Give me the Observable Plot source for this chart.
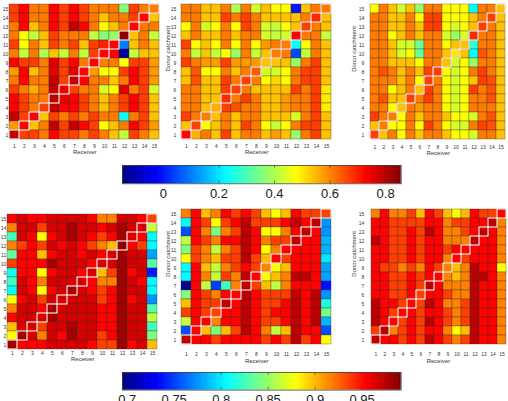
<!DOCTYPE html>
<html><head><meta charset="utf-8">
<script src="https://cdn.jsdelivr.net/npm/d3@7"></script>
<script src="https://cdn.jsdelivr.net/npm/@observablehq/plot@0.6"></script>
<style>
body{margin:0;background:#fff;}
#root{position:relative;width:508px;height:401px;overflow:hidden;background:#fff;}
#root svg{position:absolute;overflow:visible;}
</style></head><body><div id="root"></div>
<script>
// ---------- categories ----------
const receivers = [1,2,3,4,5,6,7,8,9,10,11,12,13,14,15];
const donors = [15,14,13,12,11,10,9,8,7,6,5,4,3,2,1]; // rows listed top to bottom

// ---------- colour-bar ticks ----------
const topDomain = [-0.147, 0.856];
const topTicks = [0, 0.2, 0.4, 0.6, 0.8];
const topTickLabels = ["0", "0.2", "0.4", "0.6", "0.8"];
const botDomain = [0.695, 0.9915];
const botTicks = [0.7, 0.75, 0.8, 0.85, 0.9, 0.95];
const botTickLabels = ["0.7", "0.75", "0.8", "0.85", "0.9", "0.95"];

// ---------- series values (rows = donor 15..1, cols = receiver 1..15) ----------
const panelA = [
[0.67,0.73,0.61,0.61,0.73,0.67,0.73,0.67,0.61,0.61,0.61,0.36,0.67,0.61,0.61],
[0.67,0.73,0.61,0.61,0.73,0.67,0.73,0.67,0.61,0.54,0.61,0.61,0.67,0.73,0.54],
[0.61,0.73,0.54,0.61,0.73,0.67,0.79,0.73,0.61,0.48,0.54,0.61,0.73,0.61,0.61],
[0.61,0.48,0.42,0.54,0.67,0.61,0.61,0.61,0.42,0.36,0.38,0.84,0.54,0.61,0.42],
[0.67,0.48,0.61,0.54,0.67,0.61,0.67,0.54,0.67,0.70,0.73,0.10,0.54,0.61,0.54],
[0.61,0.42,0.61,0.40,0.54,0.42,0.61,0.42,0.67,0.73,0.73,-0.12,0.42,0.54,0.54],
[0.73,0.67,0.67,0.61,0.76,0.67,0.73,0.61,0.73,0.61,0.61,0.48,0.67,0.67,0.58],
[0.58,0.73,0.54,0.61,0.75,0.67,0.76,0.73,0.58,0.48,0.48,0.67,0.73,0.67,0.58],
[0.61,0.73,0.61,0.61,0.79,0.67,0.79,0.73,0.61,0.61,0.54,0.61,0.73,0.67,0.58],
[0.67,0.61,0.56,0.61,0.79,0.75,0.67,0.61,0.61,0.44,0.48,0.76,0.61,0.67,0.44],
[0.73,0.67,0.61,0.61,0.80,0.75,0.73,0.67,0.61,0.54,0.61,0.67,0.73,0.67,0.54],
[0.73,0.67,0.61,0.67,0.79,0.73,0.73,0.67,0.61,0.54,0.61,0.67,0.73,0.67,0.54],
[0.79,0.67,0.73,0.54,0.67,0.61,0.67,0.61,0.67,0.61,0.61,0.24,0.61,0.67,0.54],
[0.58,0.73,0.54,0.61,0.79,0.67,0.79,0.73,0.67,0.48,0.54,0.61,0.73,0.67,0.58],
[0.79,0.67,0.67,0.61,0.73,0.67,0.67,0.61,0.67,0.61,0.54,0.42,0.67,0.61,0.54]];

const panelB = [
[0.61,0.61,0.54,0.54,0.61,0.40,0.61,0.44,0.54,0.48,0.48,0.00,0.54,0.61,0.61],
[0.61,0.61,0.54,0.54,0.67,0.61,0.67,0.61,0.54,0.54,0.54,0.54,0.61,0.69,0.54],
[0.48,0.61,0.44,0.48,0.61,0.48,0.67,0.61,0.44,0.42,0.48,0.54,0.67,0.61,0.54],
[0.54,0.61,0.54,0.54,0.61,0.54,0.61,0.61,0.44,0.42,0.44,0.73,0.61,0.61,0.42],
[0.67,0.48,0.54,0.48,0.61,0.48,0.61,0.48,0.58,0.61,0.61,0.23,0.48,0.61,0.54],
[0.61,0.42,0.54,0.42,0.48,0.38,0.61,0.42,0.54,0.61,0.61,0.05,0.42,0.61,0.54],
[0.67,0.61,0.58,0.58,0.67,0.58,0.58,0.58,0.54,0.54,0.54,0.38,0.61,0.67,0.54],
[0.54,0.65,0.48,0.48,0.61,0.54,0.61,0.64,0.44,0.44,0.48,0.61,0.67,0.67,0.54],
[0.54,0.65,0.54,0.54,0.67,0.61,0.67,0.61,0.48,0.52,0.48,0.61,0.67,0.67,0.54],
[0.61,0.61,0.54,0.54,0.67,0.67,0.61,0.54,0.54,0.54,0.54,0.67,0.61,0.67,0.50],
[0.61,0.61,0.54,0.54,0.69,0.61,0.67,0.61,0.54,0.54,0.58,0.61,0.61,0.67,0.50],
[0.61,0.61,0.54,0.56,0.67,0.65,0.61,0.61,0.54,0.54,0.58,0.61,0.61,0.67,0.50],
[0.67,0.61,0.61,0.54,0.61,0.54,0.61,0.61,0.54,0.54,0.54,0.44,0.61,0.67,0.54],
[0.54,0.67,0.48,0.54,0.61,0.54,0.67,0.61,0.48,0.42,0.48,0.61,0.67,0.67,0.54],
[0.73,0.56,0.61,0.54,0.67,0.54,0.61,0.61,0.54,0.58,0.54,0.38,0.61,0.67,0.54]];

const panelC = [
[0.48,0.61,0.54,0.44,0.54,0.38,0.61,0.61,0.48,0.48,0.48,0.23,0.61,0.61,0.54],
[0.61,0.61,0.54,0.54,0.61,0.48,0.67,0.67,0.48,0.48,0.48,0.54,0.61,0.67,0.54],
[0.61,0.61,0.54,0.54,0.61,0.54,0.67,0.67,0.48,0.44,0.48,0.54,0.67,0.61,0.54],
[0.61,0.61,0.48,0.54,0.61,0.54,0.61,0.61,0.44,0.38,0.44,0.69,0.61,0.61,0.54],
[0.61,0.61,0.54,0.44,0.44,0.34,0.61,0.61,0.48,0.54,0.54,0.28,0.61,0.61,0.54],
[0.61,0.61,0.54,0.44,0.48,0.33,0.61,0.61,0.54,0.50,0.54,0.23,0.65,0.61,0.54],
[0.61,0.61,0.54,0.54,0.54,0.48,0.61,0.61,0.54,0.44,0.48,0.38,0.61,0.61,0.54],
[0.61,0.65,0.61,0.54,0.61,0.54,0.67,0.67,0.48,0.44,0.48,0.61,0.67,0.61,0.54],
[0.61,0.61,0.60,0.54,0.61,0.48,0.67,0.61,0.48,0.44,0.48,0.54,0.67,0.65,0.54],
[0.61,0.61,0.48,0.54,0.61,0.54,0.67,0.61,0.48,0.44,0.48,0.67,0.61,0.65,0.54],
[0.61,0.65,0.54,0.54,0.67,0.61,0.67,0.61,0.48,0.44,0.48,0.61,0.61,0.65,0.54],
[0.61,0.61,0.48,0.54,0.61,0.58,0.61,0.61,0.48,0.44,0.48,0.61,0.61,0.61,0.54],
[0.67,0.61,0.61,0.48,0.61,0.54,0.61,0.61,0.54,0.48,0.48,0.44,0.61,0.65,0.54],
[0.54,0.61,0.48,0.48,0.61,0.48,0.67,0.61,0.48,0.44,0.44,0.61,0.67,0.65,0.54],
[0.67,0.54,0.61,0.48,0.61,0.54,0.61,0.61,0.54,0.48,0.48,0.44,0.61,0.61,0.54]];

const panelD = [
[.954,.966,.954,.954,.966,.966,.966,.966,.954,.917,.917,.966,.966,.954,.936],
[.917,.966,.966,.936,.966,.966,.980,.966,.966,.954,.966,.980,.966,.966,.862],
[.825,.966,.954,.880,.954,.966,.980,.966,.954,.936,.954,.980,.966,.954,.806],
[.917,.936,.954,.936,.966,.954,.966,.954,.936,.917,.899,.988,.954,.936,.806],
[.835,.954,.954,.899,.954,.966,.966,.954,.966,.954,.966,.982,.966,.966,.780],
[.936,.954,.954,.954,.980,.966,.966,.966,.954,.966,.966,.982,.966,.966,.830],
[.810,.954,.954,.880,.954,.966,.966,.954,.966,.899,.936,.982,.954,.966,.740],
[.825,.966,.954,.917,.966,.966,.966,.966,.954,.917,.917,.982,.966,.954,.806],
[.806,.966,.954,.880,.954,.966,.980,.966,.954,.936,.954,.982,.966,.966,.806],
[.880,.954,.966,.936,.966,.966,.966,.966,.966,.936,.954,.982,.954,.966,.775],
[.917,.966,.966,.954,.980,.966,.966,.966,.966,.954,.954,.982,.966,.966,.830],
[.954,.966,.966,.966,.980,.966,.966,.966,.966,.954,.954,.982,.966,.966,.862],
[.899,.966,.966,.936,.966,.966,.980,.966,.966,.954,.954,.982,.966,.966,.825],
[.880,.980,.966,.917,.966,.954,.980,.966,.966,.936,.954,.982,.966,.966,.843],
[.982,.954,.954,.954,.966,.966,.966,.966,.954,.936,.936,.982,.954,.966,.899]];

const panelE = [
[.917,.954,.899,.917,.954,.936,.954,.936,.899,.880,.899,.954,.936,.936,.936],
[.806,.954,.936,.880,.936,.954,.973,.936,.936,.936,.954,.973,.954,.973,.775],
[.755,.954,.917,.843,.917,.936,.973,.954,.880,.880,.917,.954,.973,.954,.775],
[.862,.954,.936,.917,.954,.954,.973,.954,.917,.936,.936,.973,.954,.954,.785],
[.843,.936,.917,.862,.917,.936,.973,.954,.880,.917,.954,.954,.954,.954,.785],
[.880,.936,.917,.899,.936,.936,.973,.936,.899,.954,.936,.954,.954,.954,.800],
[.806,.954,.899,.862,.917,.936,.954,.936,.917,.880,.899,.954,.954,.954,.780],
[.806,.954,.917,.862,.936,.917,.973,.954,.880,.899,.917,.973,.973,.954,.780],
[.700,.954,.862,.750,.825,.917,.973,.936,.899,.862,.917,.954,.954,.954,.735],
[.843,.954,.936,.917,.954,.954,.973,.954,.936,.936,.936,.973,.954,.973,.775],
[.899,.954,.936,.936,.973,.954,.973,.954,.936,.936,.954,.973,.954,.973,.815],
[.936,.954,.936,.936,.954,.954,.973,.954,.936,.954,.954,.973,.954,.973,.840],
[.862,.954,.954,.917,.954,.954,.973,.954,.936,.936,.954,.973,.954,.973,.785],
[.755,.954,.899,.843,.899,.936,.973,.954,.917,.862,.899,.973,.954,.954,.755],
[.973,.954,.954,.936,.954,.954,.954,.954,.936,.954,.936,.973,.936,.954,.880]];

const panelF = [
[.917,.954,.917,.917,.936,.899,.954,.936,.899,.880,.899,.954,.936,.936,.954],
[.954,.954,.936,.936,.936,.936,.954,.954,.917,.936,.936,.954,.954,.973,.917],
[.954,.954,.936,.936,.954,.936,.973,.954,.917,.917,.936,.954,.973,.954,.917],
[.973,.954,.936,.936,.954,.936,.954,.954,.917,.917,.917,.973,.954,.954,.917],
[.954,.954,.936,.936,.954,.936,.954,.954,.936,.954,.954,.954,.954,.954,.917],
[.954,.954,.936,.936,.954,.936,.954,.954,.917,.954,.936,.954,.954,.954,.917],
[.954,.936,.936,.917,.936,.917,.954,.936,.917,.899,.917,.973,.954,.954,.880],
[.954,.954,.936,.936,.954,.936,.954,.954,.917,.899,.917,.973,.973,.954,.917],
[.954,.954,.936,.936,.954,.936,.973,.954,.917,.917,.917,.973,.954,.954,.917],
[.954,.954,.936,.936,.954,.936,.954,.954,.936,.917,.917,.973,.954,.954,.917],
[.973,.954,.954,.936,.954,.936,.973,.954,.917,.917,.936,.973,.954,.954,.917],
[.973,.954,.936,.954,.954,.936,.954,.954,.936,.917,.936,.973,.954,.954,.917],
[.973,.954,.954,.936,.954,.936,.973,.954,.936,.917,.936,.973,.954,.954,.917],
[.936,.973,.917,.936,.954,.936,.954,.954,.917,.880,.899,.973,.954,.954,.917],
[.973,.954,.954,.936,.954,.936,.973,.954,.936,.917,.936,.973,.954,.954,.917]];

// ---------- jet colormap ----------
function jet(t) {
  const c = v => Math.max(0, Math.min(1, v));
  const r = c(1.5 - Math.abs(4 * t - 3)), g = c(1.5 - Math.abs(4 * t - 2)), b = c(1.5 - Math.abs(4 * t - 1));
  return `rgb(${Math.round(r * 255)},${Math.round(g * 255)},${Math.round(b * 255)})`;
}

const FONT = "'Liberation Sans', Arial, Helvetica, sans-serif";
const root = document.getElementById("root");

function tidy(rows) {
  const out = [];
  rows.forEach((row, i) => row.forEach((v, j) => out.push({donor: donors[i], receiver: receivers[j], v})));
  return out;
}

function place(svg, left, top) {
  svg.style.left = left + "px";
  svg.style.top = top + "px";
  root.appendChild(svg);
}

function panel(rows, domain, box, ylabelDx, showYLabel) {
  const [x0, x1, y0, y1] = box;
  const mL = 24, mR = 2, mT = 3, mB = 18;
  const svg = Plot.plot({
    width: x1 - x0 + mL + mR, height: y1 - y0 + mT + mB,
    marginLeft: mL, marginRight: mR, marginTop: mT, marginBottom: mB,
    style: {fontFamily: FONT, color: "#333", background: "transparent", overflow: "visible"},
    x: {type: "band", domain: receivers, padding: 0},
    y: {type: "band", domain: donors, padding: 0},
    color: {type: "linear", domain, interpolate: jet, clamp: true},
    marks: [
      Plot.cell(tidy(rows), {x: "receiver", y: "donor", fill: "v", stroke: "#3a3030", strokeWidth: 0.45, strokeOpacity: 0.75, inset: 0}),
      Plot.cell(receivers, {x: d => d, y: d => d, fill: "none", stroke: "#fff4f0", strokeWidth: 1.1, inset: 0}),
      Plot.axisX({tickSize: 0, tickPadding: 2, fontSize: 5, label: null}),
      Plot.axisY({tickSize: 0, tickPadding: 1.2, fontSize: 5, label: null}),
      Plot.text(["Receiver"], {text: d => d, frameAnchor: "bottom", dy: 11.8, fontSize: 6}),
      ...(showYLabel ? [Plot.text(["Donor catchment"], {text: d => d, frameAnchor: "left", dx: ylabelDx, rotate: -90, fontSize: 6})] : [])
    ]
  });
  place(svg, x0 - mL, y0 - mT);
}

function colorbar(domain, ticks, labels, box) {
  const [x0, x1, y0, y1] = box;
  const mL = 20, mR = 20, mT = 2, mB = 26;
  const h = y1 - y0;
  const n = 240, step = (domain[1] - domain[0]) / n;
  const ramp = d3.range(n).map(i => domain[0] + i * step);
  const svg = Plot.plot({
    width: x1 - x0 + mL + mR, height: h + mT + mB,
    marginLeft: mL, marginRight: mR, marginTop: mT, marginBottom: mB,
    style: {fontFamily: FONT, color: "#222", background: "transparent", overflow: "visible"},
    x: {type: "linear", domain},
    color: {type: "linear", domain, interpolate: jet},
    marks: [
      Plot.barX(ramp, {x1: d => d, x2: d => Math.min(domain[1], d + step * 1.6), fill: d => d + step / 2}),
      Plot.tickX(ticks, {x: d => d, stroke: "#333", strokeWidth: 0.6, insetBottom: h - 3}),
      Plot.tickX(ticks, {x: d => d, stroke: "#333", strokeWidth: 0.6, insetTop: h - 3}),
      Plot.frame({stroke: "#444", strokeWidth: 0.8}),
      Plot.axisX(ticks, {tickSize: 0, tickPadding: 5, fontSize: 13, tickFormat: d => labels[ticks.indexOf(d)], label: null})
    ]
  });
  place(svg, x0 - mL, y0 - mT);
}

panel(panelA, topDomain, [8.5, 159, 0, 142], -12, false);
panel(panelB, topDomain, [177.3, 335.7, 0, 142], -9.5, true);
panel(panelC, topDomain, [365, 510.5, 0, 142.5], -11, true);
panel(panelD, botDomain, [6.7, 157.3, 213.3, 349.3], -12, false);
panel(panelE, botDomain, [177.3, 335.7, 201.7, 350], -9.5, true);
panel(panelF, botDomain, [365, 511, 201.7, 350], -11.5, true);

colorbar(topDomain, topTicks, topTickLabels, [122.3, 401, 165, 183.3]);
colorbar(botDomain, botTicks, botTickLabels, [122.3, 401, 371.7, 389.3]);
</script></body></html>
